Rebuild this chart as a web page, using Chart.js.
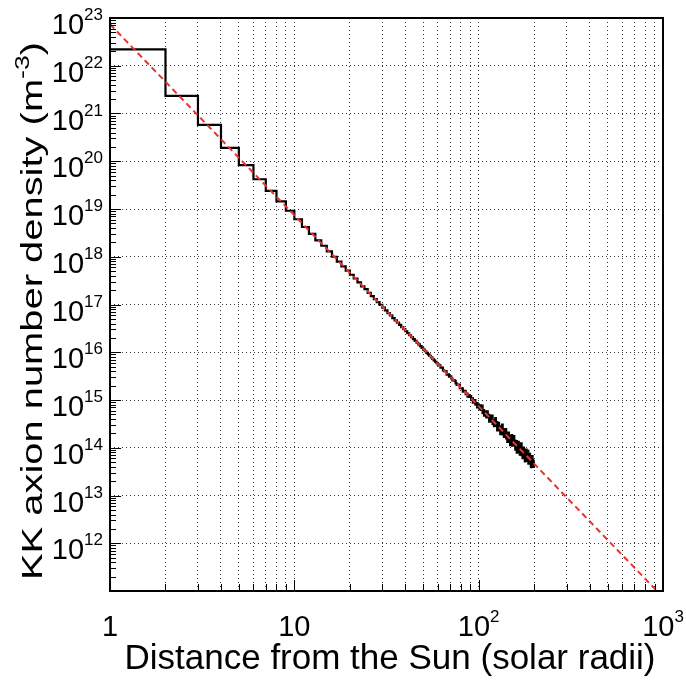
<!DOCTYPE html>
<html>
<head>
<meta charset="utf-8">
<title>KK axion number density</title>
<script src="https://cdn.jsdelivr.net/npm/chart.js@4/dist/chart.umd.min.js"></script>
<style>
  html, body { margin: 0; padding: 0; background: #fff; }
  #c { display: block; }
</style>
</head>
<body>
<canvas id="c" width="686" height="686"></canvas>
<script>
// ---- data -------------------------------------------------------------
// Histogram: one bin per solar radius, starting at 1 R_sun.
const binFirstEdge = 1;     // solar radii
const binWidth = 1;         // solar radii
const density = [           // m^-3, bins [1,2), [2,3), ... [199,200)
  2.2e22, 2.35e21, 5.8e20, 1.9e20, 8.3e19, 4.2e19, 2.4e19, 1.44e19, 9.2e18, 6.1e18,
  4.2e18, 3.0e18, 2.2e18, 1.7e18, 1.3e18, 1.0e18, 7.9e17, 6.3e17, 5.1e17, 4.2e17,
  3.5e17, 2.9e17, 2.4e17, 2.1e17, 1.75e17, 1.5e17, 1.3e17, 1.12e17, 9.8e16, 8.6e16,
  7.5e16, 6.6e16, 5.9e16, 5.2e16, 4.67e16, 4.18e16, 3.75e16, 3.37e16, 3.05e16, 2.75e16,
  2.5e16, 2.27e16, 2.07e16, 1.89e16, 1.73e16, 1.58e16, 1.46e16, 1.34e16, 1.24e16, 1.14e16,
  1.05e16, 9.75e15, 9.06e15, 8.39e15, 7.82e15, 7.28e15, 6.78e15, 6.32e15, 5.92e15, 5.53e15,
  5.30e15, 4.75e15, 4.78e15, 4.19e15, 4.03e15, 3.97e15, 3.41e15, 3.44e15, 3.10e15, 3.14e15,
  2.84e15, 2.56e15, 2.60e15, 2.52e15, 2.23e15, 2.07e15, 2.10e15, 2.09e15, 1.77e15, 1.77e15,
  1.76e15, 1.49e15, 1.56e15, 1.56e15, 1.32e15, 1.36e15, 1.18e15, 1.26e15, 1.16e15, 1.21e15,
  1.01e15, 1.08e15, 8.85e14, 9.5e14, 1.0e15, 7.98e14, 8.59e14, 7.01e14, 8.11e14, 7.60e14,
  6.37e14, 7.71e14, 6.17e14, 7.66e14, 5.33e14, 6.18e14, 4.72e14, 5.47e14, 5.78e14, 4.34e14,
  5.77e14, 4.32e14, 4.90e14, 3.51e14, 4.37e14, 4.73e14, 3.55e14, 4.73e14, 3.17e14, 3.77e14,
  2.83e14, 3.69e14, 4.20e14, 2.88e14, 3.43e14, 2.30e14, 3.08e14, 3.34e14, 2.35e14, 2.68e14,
  1.92e14, 2.82e14, 2.23e14, 3.05e14, 1.91e14, 2.34e14, 1.69e14, 2.42e14, 1.79e14, 2.45e14,
  1.57e14, 1.88e14, 1.33e14, 1.95e14, 2.08e14, 1.44e14, 1.68e14, 1.13e14, 1.78e14, 1.38e14,
  1.85e14, 1.11e14, 1.50e14, 1.13e14, 1.75e14, 1.15e14, 1.42e14, 9.12e13, 1.26e14, 1.37e14,
  7.89e13, 1.22e14, 9.91e13, 1.33e14, 8.22e13, 1.03e14, 7.14e13, 1.16e14, 8.0e13, 1.24e14,
  6.97e13, 8.77e13, 6.07e13, 9.40e13, 1.01e14, 6.65e13, 8.18e13, 5.16e13, 8.79e13, 6.52e13,
  9.20e13, 5.31e13, 7.33e13, 5.44e13, 8.65e13, 4.65e13, 6.43e13, 4.78e13, 7.41e13, 5.13e13,
  6.62e13, 3.91e13, 6.07e13, 4.94e13, 6.68e13, 3.95e13, 5.35e13, 3.97e13, 5.50e13
];

// Power-law fit, drawn as a straight segment in log-log space.
const fitRadius  = [1, 1000];
const fitDensity = [7.4e22, 7.4e10];

// Axis ranges and labelled decades.
const xRange = [1, 1000];
const yRange = [1e11, 1e23];
const xTickValues = [1, 10, 100, 1000];
const xTickBase   = ['1', '10', '10', '10'];
const xTickExp    = ['', '', '2', '3'];
const yTickExponents = [12, 13, 14, 15, 16, 17, 18, 19, 20, 21, 22, 23];

const xTitle = 'Distance from the Sun (solar radii)';
const yTitleMain = 'KK axion number density (m';
const yTitleSup = '-3';
const yTitleTail = ')';

// ---- helpers ----------------------------------------------------------
const FONT = '"Liberation Sans", Arial, Helvetica, sans-serif';

function isDecade(v) {
  const l = Math.log10(v);
  return Math.abs(l - Math.round(l)) < 1e-6;
}

function logTicks(minExp, maxExp) {
  const t = [];
  for (let e = minExp; e < maxExp; e++) {
    for (let m = 1; m <= 9; m++) t.push({ value: m * Math.pow(10, e) });
  }
  t.push({ value: Math.pow(10, maxExp) });
  return t;
}

// step histogram points: each point opens a bin, the closing edge repeats the last value
const histPoints = density.map((v, i) => ({ x: binFirstEdge + i * binWidth, y: v }));
histPoints.push({ x: binFirstEdge + density.length * binWidth, y: density[density.length - 1] });

const fitPoints = fitRadius.map((r, i) => ({ x: r, y: fitDensity[i] }));

// ---- frame, inward ticks, labels and titles --------------------------
const rootStyleAxes = {
  id: 'rootStyleAxes',
  afterDraw(chart) {
    const { ctx, chartArea: a, scales: { x, y } } = chart;
    ctx.save();

    // inward tick marks
    ctx.strokeStyle = '#000';
    ctx.lineWidth = 1;
    ctx.beginPath();
    for (const t of y.ticks) {
      const py = Math.round(y.getPixelForValue(t.value)) + 0.5;
      const len = isDecade(t.value) ? 11 : 6;
      ctx.moveTo(a.left, py);
      ctx.lineTo(a.left + len, py);
    }
    for (const t of x.ticks) {
      const px = Math.round(x.getPixelForValue(t.value)) + 0.5;
      const len = isDecade(t.value) ? 11 : 7;
      ctx.moveTo(px, a.bottom);
      ctx.lineTo(px, a.bottom - len);
    }
    ctx.stroke();

    // frame
    ctx.lineWidth = 2;
    ctx.strokeRect(a.left, a.top, a.right - a.left, a.bottom - a.top);

    ctx.fillStyle = '#000';
    ctx.textBaseline = 'alphabetic';

    // y tick labels: 10^n
    const baseFont = '29px ' + FONT;
    const expFont = '17px ' + FONT;
    const yLabelRight = a.left - 7;
    for (const e of yTickExponents) {
      const py = y.getPixelForValue(Math.pow(10, e));
      const es = String(e);
      ctx.font = expFont;
      const we = ctx.measureText(es).width;
      ctx.textAlign = 'left';
      ctx.fillText(es, yLabelRight - we, py + 2);
      ctx.font = baseFont;
      ctx.textAlign = 'right';
      ctx.fillText('10', yLabelRight - we, py + 16);
    }

    // x tick labels
    const xLabelBaseline = a.bottom + 45;
    xTickValues.forEach((v, i) => {
      const px = x.getPixelForValue(v);
      ctx.font = baseFont;
      const wb = ctx.measureText(xTickBase[i]).width;
      ctx.font = expFont;
      const we = xTickExp[i] ? ctx.measureText(xTickExp[i]).width : 0;
      const start = px - (wb + we) / 2;
      ctx.textAlign = 'left';
      ctx.font = baseFont;
      ctx.fillText(xTickBase[i], start, xLabelBaseline);
      if (xTickExp[i]) {
        ctx.font = expFont;
        ctx.fillText(xTickExp[i], start + wb, xLabelBaseline - 14);
      }
    });

    // x title
    ctx.font = '35px ' + FONT;
    ctx.textAlign = 'center';
    ctx.fillText(xTitle, 390, 669);

    // y title, rotated, with superscript exponent
    const tFont = '30px ' + FONT;
    const sFont = '20px ' + FONT;
    ctx.font = tFont;
    const w1 = ctx.measureText(yTitleMain).width;
    const w3 = ctx.measureText(yTitleTail).width;
    ctx.font = sFont;
    const w2 = ctx.measureText(yTitleSup).width;
    const total = w1 + w2 + w3;
    ctx.translate(42, 311);
    ctx.rotate(-Math.PI / 2);
    ctx.scale(1.33, 1);
    ctx.textAlign = 'left';
    let cx = -total / 2;
    ctx.font = tFont;
    ctx.fillText(yTitleMain, cx, 0);
    cx += w1;
    ctx.font = sFont;
    ctx.fillText(yTitleSup, cx, -13);
    cx += w2;
    ctx.font = tFont;
    ctx.fillText(yTitleTail, cx, 0);

    ctx.restore();
  }
};

// ---- chart ------------------------------------------------------------
const gridColor = 'rgba(0,0,0,0.78)';

new Chart(document.getElementById('c'), {
  type: 'line',
  data: {
    datasets: [
      {
        label: 'fit',
        data: fitPoints,
        borderColor: 'rgb(232,52,48)',
        borderWidth: 2,
        borderDash: [6, 4],
        pointRadius: 0,
        fill: false,
        order: 0
      },
      {
        label: 'histogram',
        data: histPoints,
        borderColor: '#000',
        borderWidth: 2.2,
        stepped: true,
        pointRadius: 0,
        fill: false,
        order: 1
      }
    ]
  },
  options: {
    responsive: false,
    animation: false,
    devicePixelRatio: 1,
    parsing: false,
    layout: { padding: { left: 0, top: 18, right: 23, bottom: 0 } },
    plugins: { legend: { display: false }, tooltip: { enabled: false } },
    scales: {
      x: {
        type: 'logarithmic',
        position: 'bottom',
        min: xRange[0],
        max: xRange[1],
        afterFit(s) { s.height = 95; },
        afterBuildTicks(s) { s.ticks = logTicks(0, 3); },
        ticks: { display: false },
        grid: { drawTicks: false, color: gridColor, lineWidth: 1 },
        border: { display: false, dash: [1, 3] }
      },
      y: {
        type: 'logarithmic',
        position: 'left',
        min: yRange[0],
        max: yRange[1],
        afterFit(s) { s.width = 110; },
        afterBuildTicks(s) { s.ticks = logTicks(11, 23); },
        ticks: { display: false },
        grid: {
          drawTicks: false,
          lineWidth: 1,
          color: (c) => (c.tick && isDecade(c.tick.value)) ? gridColor : 'rgba(0,0,0,0)'
        },
        border: { display: false, dash: [1, 3] }
      }
    }
  },
  plugins: [rootStyleAxes]
});
</script>
</body>
</html>
